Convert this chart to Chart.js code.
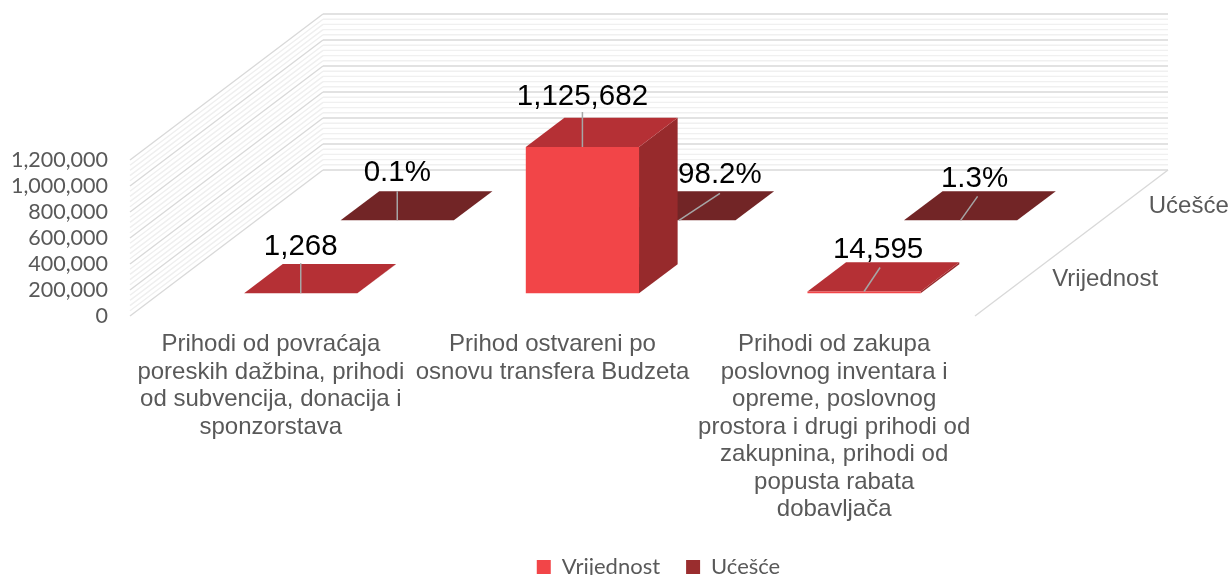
<!DOCTYPE html>
<html>
<head>
<meta charset="utf-8">
<title>Prihodi</title>
<script src="https://cdn.jsdelivr.net/npm/chart.js@4"></script>
<style>
  html, body { margin: 0; background: #fff; overflow: hidden; }
  canvas { display: block; }
</style>
</head>
<body>
<canvas id="chart" width="1230" height="575"></canvas>
<script>
const categories = [
  ["Prihodi od povraćaja", "poreskih dažbina, prihodi", "od subvencija, donacija i", "sponzorstava"],
  ["Prihod ostvareni po", "osnovu transfera Budzeta"],
  ["Prihodi od zakupa", "poslovnog inventara i", "opreme, poslovnog", "prostora i drugi prihodi od", "zakupnina, prihodi od", "popusta rabata", "dobavljača"]
];
const seriesNames = ["Vrijednost", "Ućešće"];
const vrijednost = [1268, 1125682, 14595];
const ucesce = [0.001, 0.982, 0.013];
const yMax = 1200000;
const yStep = 200000;
const yMinorStep = 40000;

// 3d look: z goes 0..1 from the front of the floor to the back wall
const depthX = 193;
const depthY = 146;
const zStart = [0.155, 0.655];
const zDepth = 0.2;
const frontColors = ["#F24548", "#9A2D2E"];
const topColors = ["#B53035", "#722526"];
const sideColors = ["#972A2C", "#5E1E1F"];
// label centre and leader end, relative to the front top centre of the bar
const labelOffsets = [
  [[0, -46, 0, -30], [0, -50, 0, -35], [14, -42, 16, -24]],
  [[0, -48, 0, -29], [41, -46, 41, -27], [14, -42, 17, -24]]
];

function project(x, y, z) {
  return [x + z * depthX, y - z * depthY];
}

function poly(ctx, pts, color) {
  ctx.fillStyle = color;
  ctx.beginPath();
  pts.forEach((p, i) => i ? ctx.lineTo(p[0], p[1]) : ctx.moveTo(p[0], p[1]));
  ctx.closePath();
  ctx.fill();
}

function line(ctx, a, b, color, width) {
  ctx.strokeStyle = color;
  ctx.lineWidth = width;
  ctx.beginPath();
  ctx.moveTo(a[0], a[1]);
  ctx.lineTo(b[0], b[1]);
  ctx.stroke();
}

const threeD = {
  id: "threeD",
  afterLayout(chart) {
    // legend sits right of centre in the original and lower than its padding allows
    const lg = chart.legend;
    lg.left = 87;
    lg.right = 1230;
    lg.top = 530;
    lg.bottom = 575;
    // tick labels get clipped to the scale box, the last line needs the room
    chart.scales.x.bottom = 575;
  },
  beforeDatasetsDraw(chart) {
    const ctx = chart.ctx;
    const xs = chart.scales.x;
    const ys = chart.scales.y;
    const left = xs.left;
    const right = xs.right;
    ctx.save();
    // minor first so the major lines stay on top
    for (let v = 0; v <= yMax; v += yMinorStep) {
      if (v % yStep === 0) continue;
      const y = ys.getPixelForValue(v);
      line(ctx, project(left, y, 0), project(left, y, 1), "#EFEFEF", 1.4);
      line(ctx, project(left, y, 1), project(right, y, 1), "#F0F0F0", 1.4);
    }
    ys.ticks.forEach(t => {
      const y = ys.getPixelForValue(t.value);
      line(ctx, project(left, y, 0), project(left, y, 1), "#D9D9D9", 1.4);
      line(ctx, project(left, y, 1), project(right, y, 1), "#D9D9D9", 1.6);
    });
    const y0 = ys.getPixelForValue(0);
    line(ctx, project(right, y0, 0), project(right, y0, 1), "#D9D9D9", 1.4);
    ctx.restore();
  },
  beforeDatasetDraw(chart, args) {
    const ctx = chart.ctx;
    const i = args.index;
    const z0 = zStart[i];
    const z1 = z0 + zDepth;
    args.meta.data.forEach(bar => {
      const p = bar.getProps(["x", "y", "base", "width"], true);
      const l = p.x - p.width / 2;
      const r = p.x + p.width / 2;
      poly(ctx, [project(r, p.base, z0), project(r, p.base, z1), project(r, p.y, z1), project(r, p.y, z0)], sideColors[i]);
      poly(ctx, [project(l, p.y, z0), project(r, p.y, z0), project(r, p.y, z1), project(l, p.y, z1)], topColors[i]);
      poly(ctx, [project(l, p.y, z0), project(r, p.y, z0), project(r, p.base, z0), project(l, p.base, z0)], frontColors[i]);
    });
    return false;
  },
  afterDatasetsDraw(chart) {
    const ctx = chart.ctx;
    ctx.save();
    // draw order matches the depth: back series first
    [1, 0].forEach(i => {
      const meta = chart.getDatasetMeta(i);
      meta.data.forEach((bar, j) => {
        const p = bar.getProps(["x", "y"], true);
        const a = project(p.x, p.y, zStart[i]);
        const o = labelOffsets[i][j];
        line(ctx, a, [a[0] + o[2], a[1] + o[3]], "#A6A6A6", 1.5);
        const v = chart.data.datasets[i].data[j];
        const txt = i === 0 ? v.toLocaleString("en-US") : (v * 100).toFixed(1) + "%";
        ctx.font = '29.5px "Liberation Sans"';
        ctx.fillStyle = "#000";
        ctx.textAlign = "center";
        ctx.textBaseline = "middle";
        ctx.fillText(txt, a[0] + o[0], a[1] + o[1]);
      });
    });
    // depth axis names
    const y0 = chart.scales.y.getPixelForValue(0);
    const right = chart.scales.x.right;
    ctx.font = '24px "Liberation Sans"';
    ctx.fillStyle = "#595959";
    ctx.textAlign = "left";
    ctx.textBaseline = "middle";
    seriesNames.forEach((name, i) => {
      const p = project(right, y0, zStart[i] + zDepth / 2);
      ctx.fillText(name, p[0] + 28, p[1] + 1);
    });
    ctx.restore();
  }
};

new Chart(document.getElementById("chart"), {
  type: "bar",
  plugins: [threeD],
  data: {
    labels: categories,
    datasets: [
      { label: seriesNames[0], data: vrijednost, backgroundColor: frontColors[0], borderWidth: 0 },
      { label: seriesNames[1], data: ucesce, backgroundColor: frontColors[1], borderWidth: 0 }
    ]
  },
  options: {
    responsive: false,
    animation: false,
    events: [],
    layout: { padding: { top: 160, right: 255, left: 0, bottom: 0 } },
    datasets: { bar: { grouped: false, categoryPercentage: 1, barPercentage: 0.402 } },
    scales: {
      x: {
        grid: { display: false },
        border: { display: false },
        ticks: {
          autoSkip: false,
          maxRotation: 0,
          padding: 7,
          color: "#595959",
          font: { family: "Liberation Sans", size: 24, lineHeight: 1.146 }
        },
        afterFit(s) { s.height = 201; }
      },
      y: {
        min: 0,
        max: yMax,
        grid: { display: false },
        border: { display: false },
        ticks: {
          stepSize: yStep,
          autoSkip: false,
          padding: 14,
          color: "#595959",
          font: { family: "Lato", size: 21.5 },
          callback: v => v.toLocaleString("en-US")
        },
        afterFit(s) { s.width = 130; }
      }
    },
    plugins: {
      title: { display: false },
      tooltip: { enabled: false },
      legend: {
        position: "bottom",
        labels: {
          boxWidth: 14,
          boxHeight: 14,
          padding: 26,
          color: "#595959",
          font: { family: "Lato", size: 22 }
        }
      }
    }
  }
});
</script>
</body>
</html>
